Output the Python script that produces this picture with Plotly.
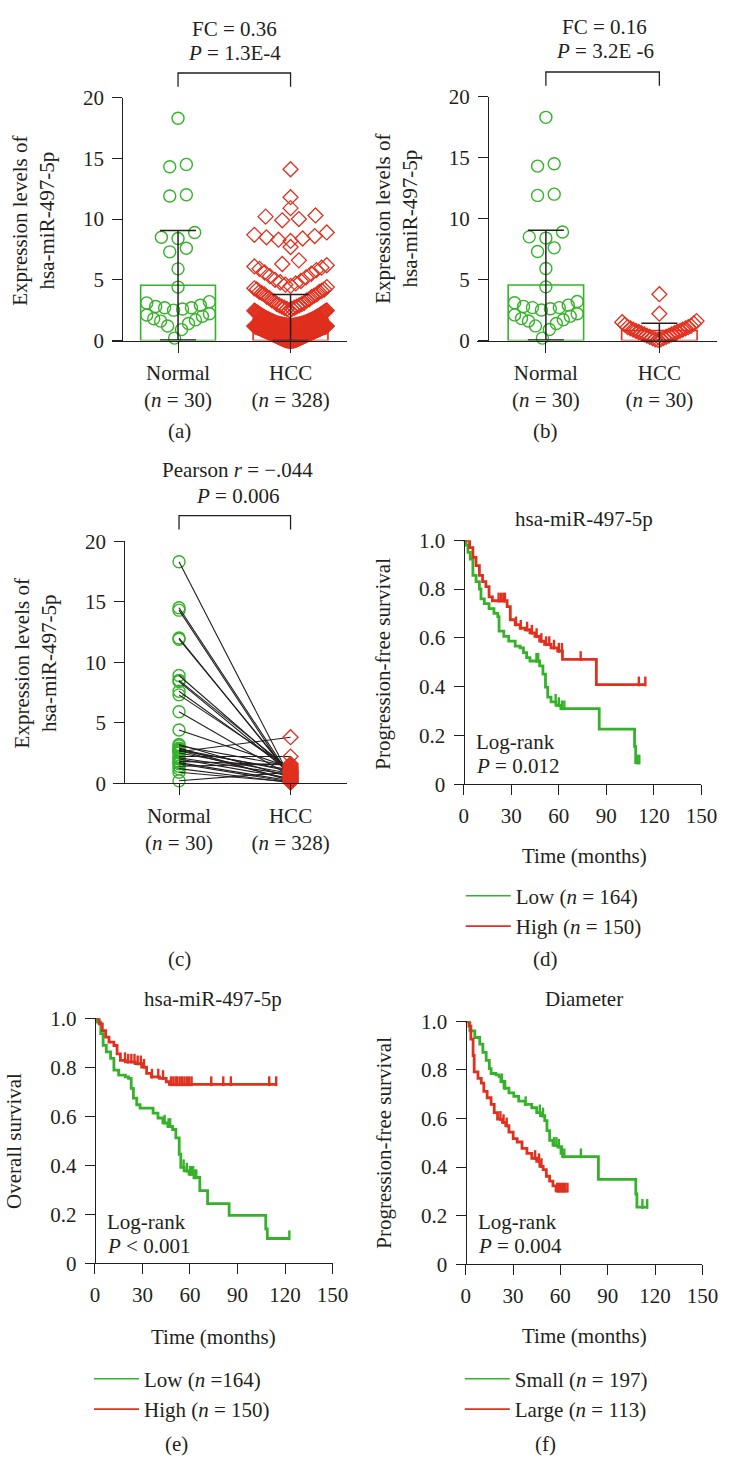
import plotly.graph_objects as go

# ------------------------------------------------------------------ data
groups = ["Normal", "HCC"]
group_ticks_30_328 = ["Normal<br>(<i>n</i> = 30)", "HCC<br>(<i>n</i> = 328)"]
group_ticks_30_30 = ["Normal<br>(<i>n</i> = 30)", "HCC<br>(<i>n</i> = 30)"]

normal_vals = [18.3, 14.5, 14.3, 12.0, 11.9, 8.9, 8.5, 8.4, 7.6, 7.3, 5.9, 4.4, 3.2, 3.1, 2.9,
               2.8, 2.7, 2.7, 2.6, 2.5, 2.2, 2.1, 2.0, 1.8, 1.7, 1.6, 1.4, 1.2, 0.9, 0.2]
# paired tumour values (same order as normal_vals)
hcc_paired = [0.4, 0.5, 0.3, 0.6, 0.7, 0.9, 1.1, 0.8, 1.0, 1.2, 0.6, 1.3, 0.5, 1.4, 0.2,
              1.0, 0.3, 1.1, 3.8, 0.8, 2.2, 0.7, 0.4, 1.5, 0.2, 0.1, 1.6, 0.05, 0.1, 0.9]

hcc_all = [14.1, 11.8, 10.9, 10.3, 10.2, 10.0, 9.9, 8.9, 8.7, 8.6, 8.5, 8.4, 8.3, 8.2, 7.7, 6.6, 6.3,
           6.2, 6.1, 6.0, 5.9, 5.8, 5.6, 5.5, 5.3, 5.2, 5.0, 4.9, 4.8, 4.7, 4.6, 4.5,
           4.4, 4.3, 4.2, 4.2, 4.1, 4.0, 4.0, 3.9, 3.8, 3.8, 3.7, 3.6, 3.6, 3.5, 3.4, 3.3, 3.3, 3.2,
           3.1, 3.0, 3.0, 2.9, 2.9, 2.8, 2.8, 2.7, 2.7, 2.6, 2.6, 2.5,
           2.48, 2.46, 2.45, 2.41, 2.39, 2.38, 2.35, 2.33, 2.30, 2.29,
           2.27, 2.25, 2.22, 2.21, 2.19, 2.16, 2.15, 2.12, 2.10, 2.09,
           2.07, 2.05, 2.03, 2.01, 1.99, 1.97, 1.96, 1.93, 1.92, 1.90,
           1.88, 1.87, 1.85, 1.83, 1.82, 1.80, 1.78, 1.77, 1.75, 1.74,
           1.72, 1.71, 1.69, 1.68, 1.66, 1.65, 1.63, 1.62, 1.61, 1.59,
           1.58, 1.57, 1.55, 1.54, 1.53, 1.51, 1.50, 1.49, 1.48, 1.46,
           1.45, 1.44, 1.43, 1.42, 1.41, 1.40, 1.39, 1.38, 1.37, 1.36,
           1.35, 1.34, 1.34, 1.33, 1.32, 1.31, 1.30, 1.30, 1.29, 1.28,
           1.28, 1.27, 1.26, 1.26, 1.25, 1.25, 1.24, 1.24, 1.23, 1.23,
           1.22, 1.22, 1.22, 1.21, 1.21, 1.21, 1.20, 1.20, 1.20, 1.20,
           1.19, 1.19, 1.18, 1.18, 1.17, 1.17, 1.16, 1.16, 1.15, 1.15,
           1.14, 1.13, 1.13, 1.12, 1.11, 1.11, 1.10, 1.09, 1.09, 1.08,
           1.07, 1.07, 1.06, 1.05, 1.04, 1.04, 1.03, 1.02, 1.01, 1.00,
           0.99, 0.99, 0.98, 0.97, 0.96, 0.95, 0.95, 0.94, 0.93, 0.92,
           0.91, 0.90, 0.90, 0.89, 0.88, 0.87, 0.86, 0.85, 0.85, 0.84,
           0.83, 0.82, 0.81, 0.80, 0.80, 0.79, 0.78, 0.77, 0.76, 0.75,
           0.75, 0.74, 0.73, 0.72, 0.71, 0.70, 0.70, 0.69, 0.68, 0.67,
           0.66, 0.65, 0.65, 0.64, 0.63, 0.62, 0.61, 0.60, 0.60, 0.59,
           0.58, 0.57, 0.56, 0.55, 0.55, 0.54, 0.53, 0.52, 0.51, 0.50,
           0.50, 0.49, 0.48, 0.47, 0.46, 0.45, 0.45, 0.44, 0.43, 0.42,
           0.41, 0.40, 0.40, 0.39, 0.38, 0.37, 0.36, 0.35, 0.35, 0.34,
           0.33, 0.32, 0.31, 0.30, 0.30, 0.29, 0.28, 0.27, 0.26, 0.25,
           0.25, 0.24, 0.23, 0.22, 0.21, 0.20, 0.20, 0.19, 0.18, 0.17,
           0.16, 0.15, 0.15, 0.14, 0.13, 0.12, 0.11, 0.10, 0.10, 0.09,
           0.08, 0.07, 0.07, 0.06, 0.06, 0.05, 0.05, 0.04, 0.04, 0.03,
           0.03, 0.03, 0.02, 0.02, 0.02, 0.01, 0.01, 0.01, 0.01, 0.00,
           0.00, 0.00, 0.00, 0.00, 0.00, 0.00]

a_mean = [4.55, 1.8]
a_err_plus = [4.5, 2.0]
a_err_minus = [4.5, 1.8]
b_mean = [4.55, 0.82]
b_err_plus = [4.5, 0.6]
b_err_minus = [4.5, 0.82]

# Kaplan-Meier step points (time in months, survival) and censor times
d_low_t = [0, 1.5, 2.7, 4.1, 5.8, 7.8, 9.9, 10.9, 13, 16, 19.1, 21.5, 22.3, 25.3, 28.4, 32.5, 35.6, 37.7,
           39.7, 41.8, 47.9, 50, 51.6, 53, 55.1, 58.2, 61.3, 85.5, 107.8, 108.5, 111]
d_low_s = [1.0, 0.98, 0.95, 0.923, 0.856, 0.83, 0.80, 0.76, 0.74, 0.72, 0.70, 0.687, 0.627, 0.606, 0.586,
           0.566, 0.559, 0.539, 0.519, 0.505, 0.485, 0.451, 0.398, 0.357, 0.337, 0.323, 0.31, 0.226,
           0.155, 0.088, 0.088]
d_low_cens = [45.9, 47.0, 58.0, 60.0, 62.0, 63.5, 109.5, 110.8]
d_high_t = [0, 3.7, 5.8, 7.8, 9.9, 11.9, 14, 16, 18.1, 27.4, 29.4, 32.5, 35.6, 38.7, 41.8, 44.9, 47.9,
            51, 55.1, 59.3, 62.3, 83.7, 115]
d_high_s = [1.0, 0.97, 0.93, 0.896, 0.856, 0.83, 0.81, 0.768, 0.752, 0.728, 0.674, 0.654, 0.64, 0.633,
            0.62, 0.606, 0.586, 0.573, 0.559, 0.546, 0.512, 0.408, 0.408]
d_high_cens = [22, 23.5, 25, 26, 33, 36, 40, 43, 46, 49, 52, 54, 57, 60, 62, 73.8, 110.5, 114.6]

e_low_t = [0, 1.6, 3.7, 5.2, 7.2, 9.9, 12, 15, 19.2, 21.2, 22.9, 24.3, 26.4, 28.5, 36.7, 39.8, 42.9, 46,
           49, 51.1, 53.2, 54.2, 56.3, 59.4, 62.5, 66.2, 71.1, 84.7, 107.8, 108.8, 122.7]
e_low_s = [1.0, 0.984, 0.937, 0.89, 0.863, 0.836, 0.788, 0.768, 0.761, 0.755, 0.714, 0.674, 0.647, 0.633,
           0.613, 0.593, 0.573, 0.559, 0.546, 0.512, 0.445, 0.391, 0.377, 0.364, 0.35, 0.296, 0.243,
           0.195, 0.14, 0.101, 0.101]
e_low_cens = [44, 46.5, 47.5, 56, 58, 60, 61, 62, 63, 64, 122.7]
e_high_t = [0, 2.7, 4.7, 6.8, 8.9, 12, 14, 16.1, 19.2, 25.4, 29.5, 32.6, 35.7, 40.8, 45, 47, 115]
e_high_s = [1.0, 0.977, 0.95, 0.923, 0.903, 0.889, 0.855, 0.828, 0.822, 0.815, 0.801, 0.775, 0.761,
            0.755, 0.741, 0.73, 0.73]
e_high_cens = [19, 21, 23, 25, 27, 29, 31, 36, 40, 43, 48, 49.5, 51, 52, 53.5, 55, 56.5, 58, 59.5, 61,
               73.4, 81, 85.8, 110, 114.4]

f_small_t = [0, 2.7, 5.8, 8.9, 10.9, 13, 15, 16.1, 19.2, 21.2, 22.3, 24.3, 27.4, 30.5, 33.6, 37.7, 41.9,
             45, 47.4, 50.1, 51.5, 53.2, 55.3, 58.4, 60.4, 61.4, 84.1, 107.8, 108.5, 115]
f_small_s = [1.0, 0.96, 0.933, 0.906, 0.872, 0.839, 0.805, 0.785, 0.779, 0.772, 0.752, 0.725, 0.705,
             0.691, 0.671, 0.658, 0.644, 0.624, 0.611, 0.591, 0.55, 0.51, 0.49, 0.483, 0.456, 0.443,
             0.349, 0.289, 0.235, 0.235]
f_small_cens = [23, 25, 38, 47, 49, 56, 57.5, 59, 61, 62.5, 73, 112, 115]
f_large_t = [0, 2.1, 3.3, 4.7, 5.4, 7.8, 9.9, 11.5, 13.6, 16.1, 18.1, 20.2, 23.3, 25.4, 27.4, 30.1, 32.6,
             35.7, 38.8, 41.9, 45, 47, 49.1, 51.1, 53.2, 55.3, 57.3, 64.5]
f_large_s = [1.0, 0.98, 0.926, 0.859, 0.792, 0.765, 0.745, 0.711, 0.685, 0.658, 0.624, 0.597, 0.584,
             0.57, 0.544, 0.517, 0.503, 0.477, 0.456, 0.436, 0.423, 0.403, 0.389, 0.362, 0.342, 0.322,
             0.302, 0.302]
f_large_cens = [22, 24, 26, 44, 46.5, 48, 58, 59, 60, 61, 62, 63, 64.5]

km_xticks = [0, 30, 60, 90, 120, 150]
km_yticks = [0, 0.2, 0.4, 0.6, 0.8, 1.0]
km_yticktext = ["0", "0.2", "0.4", "0.6", "0.8", "1.0"]
expr_yticks = [0, 5, 10, 15, 20]

# ------------------------------------------------------------------ style
W, H = 737, 1469
FONT = "Liberation Serif"
INK = "#231f20"
GREEN = "#35b22a"
RED = "#e0301e"
FS = 21


def px(x):
    return x / W


def py(y):
    return 1 - y / H


def swarm(vals, edges, ppu, max_w, gap):
    """Horizontal offsets (data units) for a binned, centre-out scatter layout."""
    offs = [0.0] * len(vals)
    for lo, hi in zip(edges[:-1], edges[1:]):
        idx = [i for i, v in enumerate(vals) if lo <= v < hi]
        idx.sort(key=lambda i: vals[i])
        k = len(idx)
        if k == 0:
            continue
        s = gap if k == 1 else min(gap, max_w / (k - 1))
        slots = sorted([(j - (k - 1) / 2) * s for j in range(k)], key=lambda p: (abs(p), p))
        for i, p in zip(idx, slots):
            offs[i] = p / ppu
    return offs


def step_at(ts, ss, t):
    v = ss[0]
    for ti, si in zip(ts, ss):
        if ti <= t:
            v = si
        else:
            break
    return v


tickfont = dict(family=FONT, size=FS, color=INK)


def xcfg(L, R, p0, v0, ppu, anchor, tickvals, ticktext, ticklen):
    return dict(domain=[px(L), px(R)], range=[v0 - (p0 - L) / ppu, v0 + (R - p0) / ppu],
                anchor=anchor, showline=True, linecolor=INK, linewidth=1.3, ticks="outside",
                ticklen=ticklen, tickwidth=1.3, tickcolor=INK, tickvals=tickvals, ticktext=ticktext,
                tickfont=tickfont, showgrid=False, zeroline=False, ticklabelstandoff=2)


def ycfg(xpos, ybot, ytop, vtop, tickvals, ticktext):
    return dict(domain=[py(ybot), py(ytop)], range=[0, vtop], anchor="free", position=px(xpos),
                showline=True, linecolor=INK, linewidth=1.3, ticks="outside", ticklen=10,
                tickwidth=1.3, tickcolor=INK, tickvals=tickvals, ticktext=ticktext,
                tickfont=tickfont, showgrid=False, zeroline=False, ticklabelstandoff=4)


fig = go.Figure()

# ------------------------------------------------------------------ panels a, b (bar + scatter)
panels_ab = [
    dict(xa="x", ya="y", ppu=115, normal=normal_vals, hcc=hcc_all, mean=a_mean,
         ep=a_err_plus, em=a_err_minus,
         hcc_edges=[0, 1.2, 2.5, 4.45, 6.25, 7.2, 8.0, 9.5, 10.5, 11.5, 13, 15], hcc_w=74),
    dict(xa="x2", ya="y2", ppu=116, normal=normal_vals, hcc=hcc_paired, mean=b_mean,
         ep=b_err_plus, em=b_err_minus, hcc_edges=[0, 1.75, 3.0, 5.0], hcc_w=76),
]
normal_edges = [0, 2.3, 3.4, 5, 6.5, 8, 9.5, 13, 16, 20]
for p in panels_ab:
    fig.add_trace(go.Bar(x=[0, 1], y=p["mean"], width=0.665, xaxis=p["xa"], yaxis=p["ya"],
                         marker=dict(color="rgba(0,0,0,0)", line=dict(color=[GREEN, RED], width=1.6)),
                         showlegend=False, hoverinfo="skip"))
    no = swarm(p["normal"], normal_edges, p["ppu"], 64, 17)
    fig.add_trace(go.Scatter(x=[0 + o for o in no], y=p["normal"], mode="markers", xaxis=p["xa"],
                             yaxis=p["ya"], cliponaxis=False, showlegend=False,
                             marker=dict(symbol="circle-open", size=12, color=GREEN,
                                         line=dict(width=1.4, color=GREEN))))
    ho = swarm(p["hcc"], p["hcc_edges"], p["ppu"], p["hcc_w"], 17)
    fig.add_trace(go.Scatter(x=[1 + o for o in ho], y=p["hcc"], mode="markers", xaxis=p["xa"],
                             yaxis=p["ya"], cliponaxis=False, showlegend=False,
                             marker=dict(symbol="diamond-open", size=11.5, color=RED,
                                         line=dict(width=1.3, color=RED))))
    fig.add_trace(go.Scatter(x=[0, 1], y=p["mean"], mode="markers", xaxis=p["xa"], yaxis=p["ya"],
                             cliponaxis=False, showlegend=False, marker=dict(size=1, opacity=0),
                             error_y=dict(type="data", symmetric=False, array=p["ep"],
                                          arrayminus=p["em"], color=INK, thickness=1.5, width=18)))

# ------------------------------------------------------------------ panel c (paired lines)
fig.add_trace(go.Scatter(x=[0] * len(normal_vals), y=normal_vals, mode="markers", xaxis="x3", yaxis="y3",
                         cliponaxis=False, showlegend=False,
                         marker=dict(symbol="circle-open", size=12, color=GREEN,
                                     line=dict(width=1.4, color=GREEN))))
lx, ly = [], []
for n_v, h_v in zip(normal_vals, hcc_paired):
    lx += [0, 1, None]
    ly += [n_v, h_v, None]
fig.add_trace(go.Scatter(x=lx, y=ly, mode="lines", xaxis="x3", yaxis="y3", showlegend=False,
                         line=dict(color=INK, width=1.1)))
fig.add_trace(go.Scatter(x=[1] * len(hcc_paired), y=hcc_paired, mode="markers", xaxis="x3", yaxis="y3",
                         cliponaxis=False, showlegend=False,
                         marker=dict(symbol="diamond-open", size=11.5, color=RED,
                                     line=dict(width=1.3, color=RED))))

# ------------------------------------------------------------------ KM panels d, e, f
km = [
    dict(xa="x4", ya="y4", lg="legend", curves=[
        (d_low_t, d_low_s, d_low_cens, GREEN, "Low (<i>n</i> = 164)"),
        (d_high_t, d_high_s, d_high_cens, RED, "High (<i>n</i> = 150)")]),
    dict(xa="x5", ya="y5", lg="legend2", curves=[
        (e_low_t, e_low_s, e_low_cens, GREEN, "Low (<i>n</i> =164)"),
        (e_high_t, e_high_s, e_high_cens, RED, "High (<i>n</i> = 150)")]),
    dict(xa="x6", ya="y6", lg="legend3", curves=[
        (f_small_t, f_small_s, f_small_cens, GREEN, "Small (<i>n</i> = 197)"),
        (f_large_t, f_large_s, f_large_cens, RED, "Large (<i>n</i> = 113)")]),
]
for p in km:
    for ts, ss, cens, col, name in p["curves"]:
        fig.add_trace(go.Scatter(x=ts, y=ss, mode="lines", line=dict(color=col, width=2.8, shape="hv"),
                                 xaxis=p["xa"], yaxis=p["ya"], showlegend=False, hoverinfo="skip"))
        cy = [step_at(ts, ss, t) + 0.013 for t in cens]
        fig.add_trace(go.Scatter(x=cens, y=cy, mode="markers", xaxis=p["xa"], yaxis=p["ya"],
                                 cliponaxis=False, showlegend=False,
                                 marker=dict(symbol="line-ns-open", size=7, color=col,
                                             line=dict(width=2.4, color=col))))
    for ts, ss, cens, col, name in p["curves"]:
        fig.add_trace(go.Scatter(x=[None], y=[None], mode="lines", name=name, legend=p["lg"],
                                 xaxis=p["xa"], yaxis=p["ya"], line=dict(color=col, width=1.6)))

# ------------------------------------------------------------------ axes
layout_axes = dict(
    xaxis=xcfg(114, 355, 182, 0, 115, "y", [0, 1], group_ticks_30_328, 11),
    yaxis=ycfg(125, 334, 87, 20, expr_yticks, [str(v) for v in expr_yticks]),
    xaxis2=xcfg(488, 733, 558, 0, 116, "y2", [0, 1], group_ticks_30_30, 11),
    yaxis2=ycfg(499, 334, 86, 20, expr_yticks, [str(v) for v in expr_yticks]),
    xaxis3=xcfg(116, 355, 183, 0, 114, "y3", [0, 1], group_ticks_30_328, 11),
    yaxis3=ycfg(127, 784, 538, 20, expr_yticks, [str(v) for v in expr_yticks]),
    xaxis4=xcfg(464, 717, 474, 0, 243 / 150, "y4", km_xticks, [str(v) for v in km_xticks], 10),
    yaxis4=ycfg(474, 785, 537, 1.0, km_yticks, km_yticktext),
    xaxis5=xcfg(87, 340, 97, 0, 243 / 150, "y5", km_xticks, [str(v) for v in km_xticks], 10),
    yaxis5=ycfg(97, 1272, 1023, 1.0, km_yticks, km_yticktext),
    xaxis6=xcfg(466, 718, 476, 0, 242 / 150, "y6", km_xticks, [str(v) for v in km_xticks], 10),
    yaxis6=ycfg(476, 1273, 1026, 1.0, km_yticks, km_yticktext),
)

# ------------------------------------------------------------------ brackets
shapes = []
for xa, ytop, ybot in [("x", 62, 76), ("x2", 61, 75), ("x3", 512, 526)]:
    shapes.append(dict(type="path", xref=xa, yref="paper",
                       path=f"M0,{py(ybot)} L0,{py(ytop)} L1,{py(ytop)} L1,{py(ybot)}",
                       line=dict(color=INK, width=1.3)))

# ------------------------------------------------------------------ text
ann = []


def text(x, y, s, xanchor="center", angle=0, size=FS):
    ann.append(dict(x=px(x), y=py(y), xref="paper", yref="paper", text=s, showarrow=False,
                    xanchor=xanchor, yanchor="middle", textangle=angle,
                    font=dict(family=FONT, size=size, color=INK)))


text(240, 17, "FC = 0.36")
text(240, 42, "<i>P</i> = 1.3E-4")
text(618, 15, "FC = 0.16")
text(618, 40, "<i>P</i> = 3.2E -6")
text(243, 466, "Pearson <i>r</i> = −.044")
text(243, 492, "<i>P</i> = 0.006")

text(34, 212, "Expression levels of<br>hsa-miR-497-5p", angle=-90)
text(405, 210, "Expression levels of<br>hsa-miR-497-5p", angle=-90)
text(36, 662, "Expression levels of<br>hsa-miR-497-5p", angle=-90)
text(392, 662, "Progression-free survival", angle=-90)
text(15, 1148, "Overall survival", angle=-90)
text(393, 1149, "Progression-free survival", angle=-90)

text(597, 515, "hsa-miR-497-5p")
text(218, 1003, "hsa-miR-497-5p")
text(597, 1003, "Diameter")

text(485, 742, "Log-rank", "left")
text(485, 767, "<i>P</i> = 0.012", "left")
text(107, 1230, "Log-rank", "left")
text(107, 1255, "<i>P</i> &lt; 0.001", "left")
text(487, 1230, "Log-rank", "left")
text(487, 1255, "<i>P</i> = 0.004", "left")

text(597, 858, "Time (months)")
text(218, 1347, "Time (months)")
text(597, 1346, "Time (months)")

text(183, 426, "(a)")
text(558, 426, "(b)")
text(183, 963, "(c)")
text(558, 963, "(d)")
text(180, 1456, "(e)")
text(558, 1456, "(f)")

legend_common = dict(xanchor="left", yanchor="top", bgcolor="rgba(0,0,0,0)", borderwidth=0,
                     font=dict(family=FONT, size=FS, color=INK), itemwidth=45, tracegroupgap=0,
                     traceorder="normal")

fig.update_layout(
    width=W, height=H, margin=dict(l=0, r=0, t=0, b=0),
    paper_bgcolor="white", plot_bgcolor="white",
    font=dict(family=FONT, size=FS, color=INK),
    shapes=shapes, annotations=ann, showlegend=True,
    legend=dict(x=px(471), y=py(878), **legend_common),
    legend2=dict(x=px(91), y=py(1369), **legend_common),
    legend3=dict(x=px(470), y=py(1369), **legend_common),
    **layout_axes,
)

fig.write_html(
    "out.html",
    config={"displayModeBar": False},
    post_script="document.documentElement.style.margin='0';document.body.style.margin='0';"
                "document.body.style.overflow='hidden';",
)
